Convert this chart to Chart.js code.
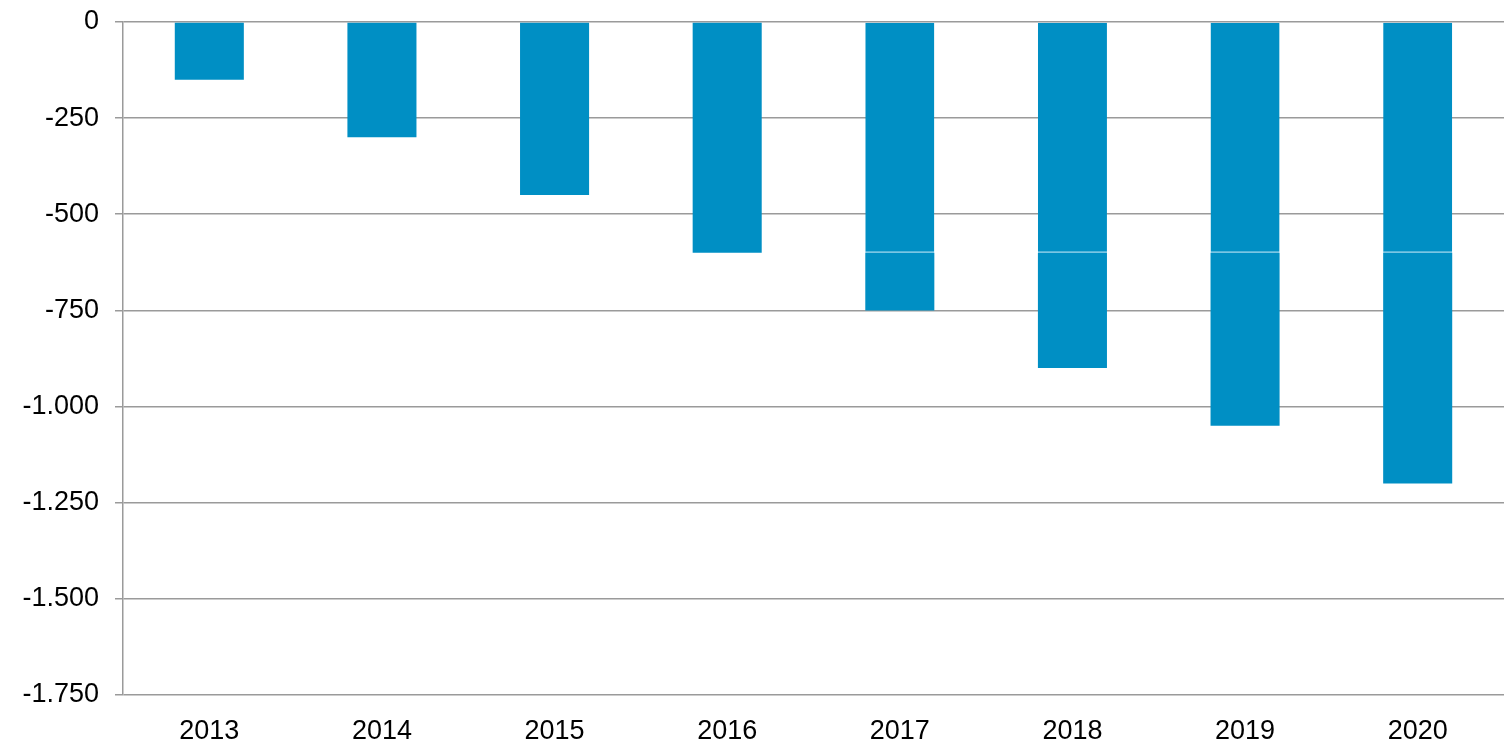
<!DOCTYPE html>
<html>
<head>
<meta charset="utf-8">
<script src="https://cdn.jsdelivr.net/npm/chart.js@4"></script>
<style>
  html, body { margin: 0; padding: 0; background: #fff; }
  #wrap { width: 1504px; height: 744px; }
</style>
</head>
<body>
<div id="wrap"><canvas id="myChart" width="1504" height="744"></canvas></div>
<script>
// Daten
const years = ['2013', '2014', '2015', '2016', '2017', '2018', '2019', '2020'];
const baseValues = [-150, -300, -450, -600, -600, -600, -600, -600];
const extraValues = [0, 0, 0, 0, -150, -300, -450, -600];
const yTicks = [0, -250, -500, -750, -1000, -1250, -1500, -1750];

const barColor = '#008fc4';
const gridColor = '#9a9a9a';

const ctx = document.getElementById('myChart').getContext('2d');
new Chart(ctx, {
    type: 'bar',
    data: {
        labels: years,
        datasets: [{
            data: baseValues,
            backgroundColor: barColor,
            // helle Trennlinie nur wenn ein zweites Segment folgt
            borderColor: '#45b0da',
            borderSkipped: 'start',
            borderWidth: (c) => extraValues[c.dataIndex] !== 0 ? { bottom: 1.5 } : 0
        }, {
            data: extraValues,
            backgroundColor: barColor,
            borderWidth: 0
        }]
    },
    options: {
        responsive: false,
        animation: false,
        maintainAspectRatio: false,
        layout: { padding: 0 },
        plugins: {
            legend: { display: false },
            tooltip: { enabled: false }
        },
        datasets: {
            bar: { categoryPercentage: 1, barPercentage: 0.4 }
        },
        scales: {
            x: {
                stacked: true,
                grid: { display: false },
                border: { display: false },
                ticks: {
                    color: '#000',
                    padding: 12,
                    font: { family: 'Liberation Sans, Arial', size: 27 }
                },
                afterFit: (s) => { s.height = 49; }
            },
            y: {
                stacked: true,
                min: yTicks[yTicks.length - 1],
                max: yTicks[0],
                afterBuildTicks: (s) => { s.ticks = yTicks.map(v => ({ value: v })); },
                grid: {
                    color: gridColor,
                    lineWidth: 1.5,
                    tickLength: 8
                },
                border: { display: true, color: gridColor, width: 1.5 },
                ticks: {
                    color: '#000',
                    padding: 16,
                    font: { family: 'Liberation Sans, Arial', size: 27, lineHeight: 0.44 },
                    callback: (v) => Number(v).toLocaleString('de-DE')
                },
                afterFit: (s) => { s.width = 123; }
            }
        }
    }
});
</script>
</body>
</html>
